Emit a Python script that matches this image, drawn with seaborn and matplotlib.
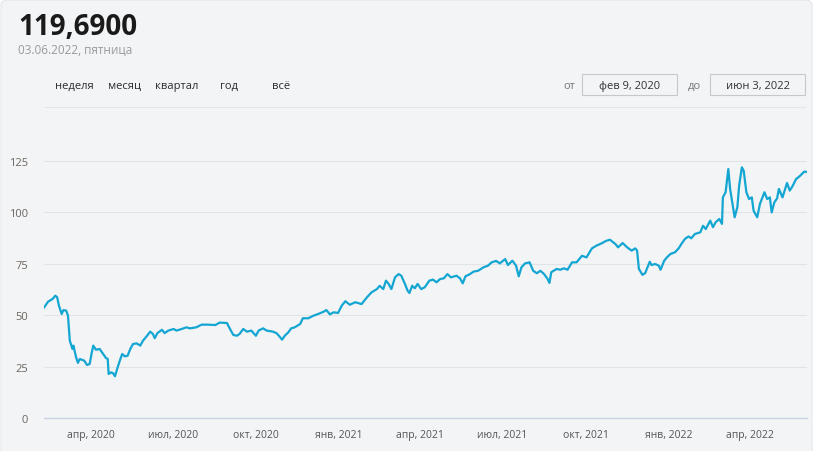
import pandas as pd
import seaborn as sns
import matplotlib.pyplot as plt
from matplotlib.patches import FancyBboxPatch, Rectangle

# Данные: дни от начала периода и значения
start_date = "2020-02-09"
end_date = "2022-06-03"
day_offsets = [
    0, 5, 10, 13, 15, 17, 20, 22, 25, 27, 29, 32, 33, 36, 38, 40, 45, 48, 51, 53,
    55, 58, 62, 66, 69, 71, 72, 75, 77, 79, 82, 85, 87, 90, 93, 96, 99, 103, 107, 110,
    114, 118, 121, 123, 126, 131, 134, 138, 144, 147, 153, 158, 162, 169, 175, 182, 190, 195, 203, 206,
    210, 214, 217, 221, 225, 230, 235, 238, 243, 247, 254, 258, 262, 264, 267, 271, 274, 278, 284, 287,
    293, 299, 304, 310, 313, 317, 321, 326, 330, 334, 339, 345, 352, 358, 363, 369, 372, 376, 379, 382,
    385, 389, 393, 396, 400, 403, 405, 408, 411, 414, 418, 422, 427, 431, 435, 439, 443, 447, 451, 457,
    461, 464, 467, 472, 476, 481, 487, 492, 496, 501, 505, 511, 514, 519, 523, 526, 529, 533, 538, 542,
    546, 550, 554, 558, 560, 562, 568, 572, 576, 580, 585, 590, 596, 601, 607, 612, 618, 623, 627, 633,
    636, 641, 646, 651, 655, 657, 659, 663, 666, 671, 673, 677, 681, 683, 687, 690, 694, 699, 703, 706,
    710, 714, 717, 721, 727, 730, 733, 738, 741, 744, 748, 751, 752, 755, 758, 760, 763, 765, 768, 770,
    773, 775, 778, 781, 784, 786, 790, 793, 798, 801, 804, 806, 809, 812, 814, 818, 823, 826, 829, 833,
    837, 842, 845,
]
values = [
    53.4, 56.6, 57.9, 59.5, 58.7, 54.6, 50.6, 52.5, 52.2, 49.8, 37.6, 33.6, 35.2, 29.5, 26.8, 28.7, 27.9, 25.8, 26.3, 31.1,
    35.2, 33.2, 33.6, 31.1, 29.2, 28.7, 21.4, 22.2, 21.7, 20.3, 24.7, 28.7, 31.1, 30.0, 30.3, 33.6, 36.0, 36.3, 35.2, 37.6,
    39.7, 42.0, 40.9, 38.8, 41.3, 42.9, 41.3, 42.5, 43.3, 42.5, 43.3, 44.1, 43.6, 44.1, 45.4, 45.4, 45.2, 46.4, 46.2, 43.6,
    40.4, 40.0, 40.9, 43.3, 42.0, 42.5, 40.0, 42.5, 43.6, 42.5, 42.0, 41.2, 39.2, 38.1, 40.0, 41.7, 43.6, 44.1, 45.7, 48.5,
    48.5, 49.8, 50.6, 51.7, 52.5, 50.4, 51.4, 51.1, 54.6, 56.8, 55.1, 56.3, 55.4, 58.7, 61.1, 62.7, 64.3, 62.7, 66.8, 65.2,
    62.7, 68.4, 70.0, 69.2, 65.2, 61.9, 60.8, 64.3, 63.1, 65.2, 62.7, 63.6, 66.8, 67.3, 66.0, 67.6, 67.9, 70.0, 68.4, 69.2,
    67.9, 65.5, 68.9, 70.0, 71.2, 71.6, 73.3, 74.1, 75.7, 76.4, 75.2, 77.3, 74.4, 76.5, 74.1, 68.9, 73.3, 75.2, 75.7, 71.6,
    70.4, 71.6, 70.0, 67.6, 65.7, 70.9, 72.5, 72.1, 72.8, 72.1, 75.7, 75.7, 78.9, 78.1, 82.5, 83.8, 85.0, 86.2, 86.7, 84.6,
    83.0, 85.1, 83.0, 81.4, 82.5, 81.4, 72.5, 69.6, 70.5, 76.0, 74.4, 74.9, 74.1, 72.1, 76.5, 78.1, 79.8, 80.6, 82.5, 84.6,
    87.1, 88.3, 87.4, 89.5, 90.3, 93.5, 91.9, 96.0, 92.8, 95.2, 96.8, 94.4, 107.3, 109.8, 121.1, 111.4, 103.3, 97.6, 102.5, 113.0,
    121.9, 120.3, 109.8, 106.5, 107.3, 100.8, 97.6, 104.1, 109.8, 106.5, 107.3, 100.0, 104.9, 106.8, 111.4, 107.3, 114.3, 110.6, 112.7, 116.2,
    117.6, 119.8, 119.69,
]

# Подписи осей
month_ticks = ["2020-04-01", "2020-07-01", "2020-10-01", "2021-01-01", "2021-04-01",
               "2021-07-01", "2021-10-01", "2022-01-01", "2022-04-01"]
month_labels = ["апр, 2020", "июл, 2020", "окт, 2020", "янв, 2021", "апр, 2021",
                "июл, 2021", "окт, 2021", "янв, 2022", "апр, 2022"]
y_ticks = [0, 25, 50, 75, 100, 125]
periods = ["неделя", "месяц", "квартал", "год", "всё"]
period_x = [55, 108, 155, 220, 272]

df = pd.DataFrame({
    "date": pd.to_datetime(start_date) + pd.to_timedelta(day_offsets, unit="D"),
    "value": values,
})

bg = "#f3f4f6"
sns.set_style("white")
plt.rcParams["font.family"] = ["Open Sans", "DejaVu Sans"]

W, H = 815, 452
fig = plt.figure(figsize=(W / 100, H / 100), dpi=100)
fig.patch.set_facecolor("white")

# карточка с закруглёнными углами
card = FancyBboxPatch((1 / W, -0.05), 811 / W, 1.05 - 1 / H,
                      boxstyle="round,pad=0,rounding_size=0.01",
                      transform=fig.transFigure, facecolor=bg,
                      edgecolor="#e4e6e9", linewidth=0.8, zorder=-10)
fig.patches.append(card)

left_px, right_px = 43.6, 806.9
ax = fig.add_axes([left_px / W, 1 - 419 / H, (right_px - left_px) / W, 267.3 / H])
ax.set_facecolor("none")
ax.set_zorder(5)

sns.lineplot(data=df, x="date", y="value", ax=ax, color="#13a6d2", linewidth=1.6)

ax.set_xlim(pd.to_datetime(start_date), pd.to_datetime(end_date))
ax.set_ylim(0, 130)
ax.set_yticks(y_ticks)
ax.set_yticklabels([str(v) for v in y_ticks])
ax.set_xticks(pd.to_datetime(month_ticks))
ax.set_xticklabels(month_labels)
ax.set_xlabel("")
ax.set_ylabel("")

for s in ["top", "right", "left"]:
    ax.spines[s].set_visible(False)
ax.spines["bottom"].set_color("#c9d2e0")
ax.spines["bottom"].set_linewidth(1.0)

ax.yaxis.grid(True, color="#e1e3e7", linewidth=0.8)
ax.set_axisbelow(True)
ax.tick_params(axis="y", length=0, pad=11, labelsize=8, labelcolor="#6b6660")
ax.tick_params(axis="x", length=6, width=0.8, color="#c9d2e0", pad=2,
               labelsize=7.5, labelcolor="#555555", direction="out")

# заголовок
fig.text(18 / W, 1 - 35 / H, "119,6900", fontsize=20, fontweight="bold",
         color="#1a1a1a", va="baseline", ha="left")
fig.text(18 / W, 1 - 54 / H, "03.06.2022, пятница", fontsize=8.5,
         color="#9a9a9a", va="baseline", ha="left")

for label, px in zip(periods, period_x):
    fig.text(px / W, 1 - 89 / H, label, fontsize=8, color="#2b2b2b",
             va="baseline", ha="left")

fig.text(563 / W, 1 - 89 / H, "от", fontsize=8, color="#777777", va="baseline")
fig.text(688 / W, 1 - 89 / H, "до", fontsize=8, color="#777777", va="baseline")
for x0, x1, txt in [(582, 677, "фев 9, 2020"), (710, 805, "июн 3, 2022")]:
    fig.patches.append(Rectangle((x0 / W, 1 - 96 / H), (x1 - x0) / W, 21 / H,
                                 transform=fig.transFigure, facecolor=bg,
                                 edgecolor="#c8c8c8", linewidth=0.8, zorder=-5))
    fig.text((x0 + x1) / 2 / W, 1 - 89 / H, txt, fontsize=8, color="#333333",
             va="baseline", ha="center")

# разделитель
fig.add_artist(plt.Line2D([45 / W, 805 / W], [1 - 108 / H, 1 - 108 / H],
                          transform=fig.transFigure, color="#e2e4e7", linewidth=0.8))

fig.savefig("out.png", dpi=100, facecolor=fig.get_facecolor())
